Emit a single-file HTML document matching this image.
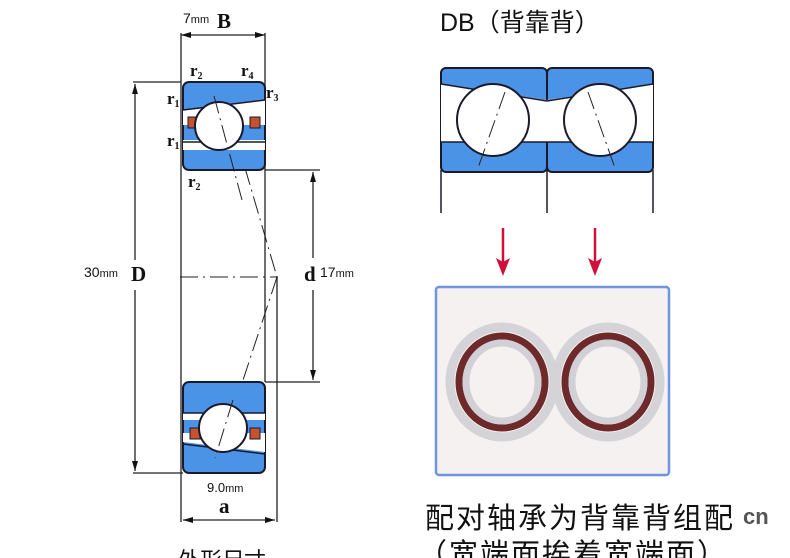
<!DOCTYPE html>
<html><head><meta charset="utf-8"><style>
html,body{margin:0;padding:0;background:#fff;}
svg{display:block}
</style></head><body>
<svg width="790" height="558" viewBox="0 0 790 558" xmlns="http://www.w3.org/2000/svg" font-family="Liberation Sans, Noto Sans CJK SC, sans-serif">
<defs>
<marker id="ar" markerWidth="10" markerHeight="6" refX="10" refY="3" orient="auto" markerUnits="userSpaceOnUse"><path d="M0,0 L10,3 L0,6 Z" fill="#111"/></marker>
</defs>
<g stroke="#222" stroke-width="1.3" fill="none">
<line x1="181" y1="33" x2="181" y2="522"/>
<line x1="265" y1="33" x2="265" y2="382"/>
<line x1="277" y1="277" x2="277" y2="522"/>
<line x1="133" y1="82" x2="181" y2="82"/>
<line x1="133" y1="473" x2="183" y2="473"/>
<line x1="265" y1="170" x2="320" y2="170"/>
<line x1="265" y1="382" x2="320" y2="382"/>
<line x1="223" y1="35" x2="265" y2="35" marker-end="url(#ar)"/>
<line x1="223" y1="35" x2="181" y2="35" marker-end="url(#ar)"/>
<line x1="135" y1="260" x2="135" y2="84" marker-end="url(#ar)"/>
<line x1="135" y1="290" x2="135" y2="471" marker-end="url(#ar)"/>
<line x1="313" y1="258" x2="313" y2="172" marker-end="url(#ar)"/>
<line x1="313" y1="290" x2="313" y2="380" marker-end="url(#ar)"/>
<line x1="230" y1="520" x2="183" y2="520" marker-end="url(#ar)"/>
<line x1="230" y1="520" x2="275" y2="520" marker-end="url(#ar)"/>
<line x1="180" y1="277" x2="278" y2="277" stroke-dasharray="18,5,2,5" stroke-width="1"/>
<line x1="228" y1="110" x2="277" y2="277" stroke-dasharray="18,5,2,5" stroke-width="1"/>
<line x1="277" y1="277" x2="215" y2="465" stroke-dasharray="18,5,2,5" stroke-width="1"/>
</g>
<g stroke="#1a1a2a" stroke-width="2">
<rect x="183" y="82" width="82" height="88" rx="6" fill="#4a93e6"/>
<path d="M183,110 L265,100 L265,125 L183,125 Z" fill="#fff" stroke="none"/>
<path d="M183,140 L265,140 L265,150 L183,150 Z" fill="#fff" stroke="none"/>
<line x1="183" y1="110" x2="265" y2="100" stroke-width="1.5"/>
<line x1="183" y1="142" x2="265" y2="142" stroke-width="1.5"/>
<rect x="188" y="117" width="10" height="11" fill="#c7522f" stroke-width="1"/>
<rect x="250" y="117" width="10" height="11" fill="#c7522f" stroke-width="1"/>
<circle cx="219" cy="126" r="24" fill="#fff"/>
</g>
<g stroke="#1a1a2a" stroke-width="2">
<rect x="183" y="382" width="82" height="91" rx="6" fill="#4a93e6"/>
<path d="M183,413 L265,413 L265,420 L183,420 Z" fill="#fff" stroke="none"/>
<path d="M183,442 L265,452 L265,433 L183,433 Z" fill="#fff" stroke="none"/>
<line x1="183" y1="413" x2="265" y2="413" stroke-width="1.5"/>
<line x1="183" y1="444" x2="265" y2="454" stroke-width="1.5"/>
<rect x="190" y="428" width="10" height="11" fill="#c7522f" stroke-width="1"/>
<rect x="250" y="428" width="10" height="11" fill="#c7522f" stroke-width="1"/>
<circle cx="223" cy="428" r="24" fill="#fff"/>
</g>
<g stroke="#222" stroke-width="1" stroke-dasharray="18,5,2,5" fill="none">
<line x1="214" y1="96" x2="242" y2="200"/>
<line x1="233" y1="400" x2="215" y2="458"/>
</g>
<g fill="#111" font-family="Liberation Serif, serif" font-weight="bold">
<text x="190" y="76" font-size="17">r<tspan font-size="10" dy="3">2</tspan></text>
<text x="241" y="76" font-size="17">r<tspan font-size="10" dy="3">4</tspan></text>
<text x="266" y="98" font-size="17">r<tspan font-size="10" dy="3">3</tspan></text>
<text x="167" y="104" font-size="17">r<tspan font-size="10" dy="3">1</tspan></text>
<text x="167" y="146" font-size="17">r<tspan font-size="10" dy="3">1</tspan></text>
<text x="188" y="187" font-size="17">r<tspan font-size="10" dy="3">2</tspan></text>
<text x="217" y="28" font-size="21">B</text>
<text x="131" y="281" font-size="21">D</text>
<text x="304" y="281" font-size="21">d</text>
<text x="219" y="513" font-size="21">a</text>
</g>
<g fill="#111" font-size="14">
<text x="183" y="23">7<tspan font-size="11">mm</tspan></text>
<text x="84" y="277">30<tspan font-size="11">mm</tspan></text>
<text x="320" y="277">17<tspan font-size="11">mm</tspan></text>
<text x="207" y="492" font-size="13">9.0<tspan font-size="11">mm</tspan></text>
<text x="178" y="568" font-size="22">外形尺寸</text>
</g>
<text x="440" y="31" font-size="25" fill="#111">DB<tspan>（背靠背）</tspan></text>
<g stroke="#1a1a2a" stroke-width="2">
<rect x="441" y="68" width="106" height="104" rx="5" fill="#4a93e6"/>
<rect x="547" y="68" width="106" height="104" rx="5" fill="#4a93e6"/>
<path d="M441,84 L547,100 L547,142 L441,142 Z" fill="#fff" stroke="none"/>
<path d="M653,84 L547,100 L547,142 L653,142 Z" fill="#fff" stroke="none"/>
<line x1="441" y1="84" x2="547" y2="101" stroke-width="1.5"/>
<line x1="653" y1="84" x2="547" y2="101" stroke-width="1.5"/>
<line x1="441" y1="142" x2="653" y2="142" stroke-width="1.5"/>
<circle cx="493" cy="120" r="36" fill="#fff"/>
<circle cx="600" cy="120" r="36" fill="#fff"/>
<line x1="441" y1="170" x2="441" y2="213" stroke-width="1.5"/>
<line x1="547" y1="170" x2="547" y2="213" stroke-width="1.5"/>
<line x1="653" y1="170" x2="653" y2="213" stroke-width="1.5"/>
</g>
<g stroke="#222" stroke-width="1" stroke-dasharray="18,5,2,5">
<line x1="505" y1="92" x2="478" y2="168"/>
<line x1="588" y1="92" x2="615" y2="168"/>
</g>
<g stroke="#d0103a" stroke-width="2.5">
<line x1="503" y1="228" x2="503" y2="264"/>
<line x1="595" y1="228" x2="595" y2="264"/>
</g>
<path d="M496,258 L503,276 L510,258 L503,262 Z" fill="#d0103a"/>
<path d="M588,258 L595,276 L602,258 L595,262 Z" fill="#d0103a"/>
<rect x="436" y="287" width="233" height="188" rx="3" fill="#f6f1f1" stroke="#6f95dc" stroke-width="2.5"/>
<g fill="none">
<ellipse cx="502" cy="382" rx="52" ry="55" stroke="#d3d3d8" stroke-width="9"/>
<ellipse cx="502" cy="382" rx="43" ry="46" stroke="#6e2a2a" stroke-width="7"/>
<ellipse cx="502" cy="382" rx="36" ry="39" stroke="#d0d0d6" stroke-width="7"/>
<ellipse cx="608" cy="382" rx="52" ry="55" stroke="#d3d3d8" stroke-width="9"/>
<ellipse cx="608" cy="382" rx="43" ry="46" stroke="#6e2a2a" stroke-width="7"/>
<ellipse cx="608" cy="382" rx="36" ry="39" stroke="#d0d0d6" stroke-width="7"/>
</g>
<text x="425" y="528" font-size="29" letter-spacing="2" fill="#111">配对轴承为背靠背组配</text>
<text x="743" y="524" font-size="22" fill="#555" font-weight="bold">cn</text>
<text x="418" y="564" font-size="29" letter-spacing="2" fill="#111">（宽端面挨着宽端面）</text>
</svg>
</body></html>
